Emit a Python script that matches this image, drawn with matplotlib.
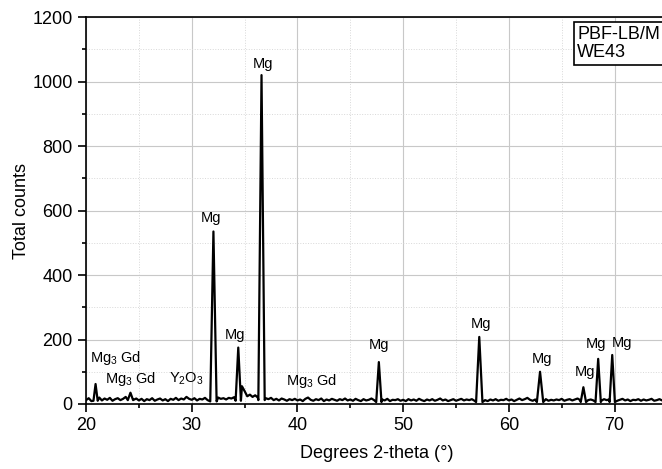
import numpy as np
import matplotlib
matplotlib.use("Agg")
import matplotlib.pyplot as plt
from matplotlib.ticker import MultipleLocator

plt.rcParams['font.family'] = ['Liberation Sans', 'DejaVu Sans']
plt.rcParams['mathtext.default'] = 'regular'

# background counts, 20.00 .. 75.00 deg in 0.25 deg steps
bg_start, bg_step = 20.0, 0.25
bg_counts = [
    12, 18, 9, 16, 14, 20, 11, 17, 13, 19, 10, 15, 18, 12, 16, 22, 14, 19, 13, 17,
    11, 16, 9, 15, 12, 18, 10, 14, 17, 11, 15, 9, 16, 13, 19, 12, 17, 14, 22, 16,
    13, 18, 11, 16, 14, 19, 12, 15, 17, 13, 20, 16, 18, 14, 19, 17, 21, 24, 30, 55,
    40, 24, 29, 22, 27, 20, 25, 23, 18, 15, 19, 12, 16, 11, 17, 14, 10, 15, 12, 16,
    11, 14, 9, 16, 20, 13, 10, 15, 12, 17, 9, 14, 11, 16, 13, 10, 15, 12, 17, 11,
    14, 10, 16, 12, 9, 15, 11, 13, 17, 12, 15, 10, 14, 11, 16, 9, 13, 12, 15, 10,
    13, 9, 15, 11, 14, 10, 16, 12, 9, 14, 11, 15, 10, 13, 17, 11, 14, 9, 12, 15,
    10, 13, 16, 11, 14, 12, 15, 10, 13, 11, 16, 12, 9, 14, 11, 15, 10, 13, 12, 16,
    11, 14, 9, 13, 17, 12, 15, 19, 13, 10, 14, 11, 16, 12, 15, 10, 13, 11, 14, 12,
    16, 10, 13, 15, 11, 14, 17, 12, 10, 15, 12, 14, 11, 16, 13, 10, 15, 12, 14, 11,
    15, 10, 13, 16, 11, 14, 9, 13, 12, 15, 10, 14, 11, 13, 16, 10, 12, 15, 11, 14,
    12,
]

# reflections: position, top count, half base width, foot count
peak_pos = [20.9, 24.2, 32.05, 34.4, 36.6, 47.7, 57.2, 62.95, 67.05, 68.45, 69.78]
peak_top = [62, 35, 535, 175, 1020, 130, 208, 100, 52, 140, 152]
peak_hw = [0.2, 0.25, 0.3, 0.25, 0.3, 0.25, 0.3, 0.3, 0.25, 0.25, 0.25]
peak_foot = [10, 12, 8, 10, 12, 6, 6, 6, 6, 6, 6]

# phase labels: text, 2-theta, counts
labels = ['Mg$_3$ Gd', 'Mg$_3$ Gd', 'Y$_2$O$_3$', 'Mg', 'Mg', 'Mg', 'Mg$_3$ Gd',
          'Mg', 'Mg', 'Mg', 'Mg', 'Mg', 'Mg']
label_x = [22.8, 24.25, 29.5, 31.8, 34.1, 36.7, 41.3, 47.7, 57.35, 63.1, 67.2, 68.2, 70.7]
label_y = [143, 78, 78, 577, 214, 1054, 71, 183, 248, 140, 100, 186, 189]

# build trace
bx = bg_start + bg_step * np.arange(len(bg_counts))
by = np.array(bg_counts, dtype=float)
keep = np.ones(len(bx), dtype=bool)
px, py = [], []
for c, h, w, f in zip(peak_pos, peak_top, peak_hw, peak_foot):
    keep &= ~((bx >= c - w) & (bx <= c + w))
    px += [c - w, c, c + w]
    py += [f, h, f]
x = np.concatenate([bx[keep], px])
y = np.concatenate([by[keep], py])
order = np.argsort(x)
x, y = x[order], y[order]

fig = plt.figure(figsize=(6.62, 4.69), dpi=100)
ax = fig.add_axes([0.130, 0.1386, 55 * 10.57 / 662, 0.825])
ax.plot(x, y, color='black', lw=1.6)

for t, lx, ly in zip(labels, label_x, label_y):
    ax.text(lx, ly, t, fontsize=10.5, ha='center', va='center')

ax.set_xlim(20, 75)
ax.set_ylim(0, 1200)
ax.xaxis.set_major_locator(MultipleLocator(10))
ax.xaxis.set_minor_locator(MultipleLocator(5))
ax.yaxis.set_major_locator(MultipleLocator(200))
ax.yaxis.set_minor_locator(MultipleLocator(100))
ax.grid(which='major', color='#c8c8c8', lw=0.8)
ax.grid(which='minor', color='#d8d8d8', lw=0.7, ls=':')
ax.set_axisbelow(True)
ax.tick_params(which='major', direction='out', length=5.5, width=1.2,
               labelsize=13, pad=4)
ax.tick_params(which='minor', direction='out', length=3, width=1.2)
for s in ax.spines.values():
    s.set_linewidth(1.2)
ax.set_xlabel('Degrees 2-theta (°)', fontsize=13, labelpad=8)
ax.set_ylabel('Total counts', fontsize=13, labelpad=2)

fig.text(0.872, 0.945, 'PBF-LB/M\nWE43', fontsize=13, va='top', ha='left',
         linespacing=1.1,
         bbox=dict(boxstyle='square,pad=0.2', fc='white', ec='black', lw=1.2))

fig.savefig('out.png', dpi=100)
